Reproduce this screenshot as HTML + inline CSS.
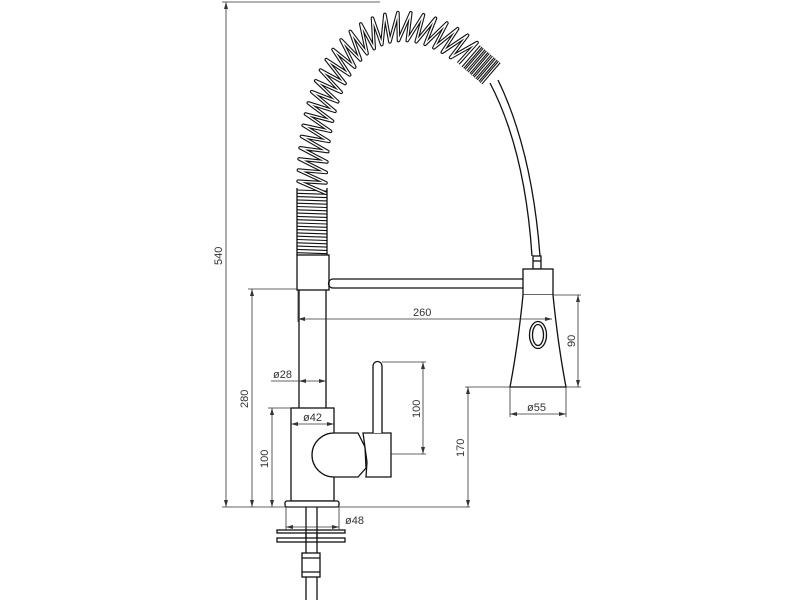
<!DOCTYPE html>
<html><head><meta charset="utf-8"><style>
html,body{margin:0;padding:0;background:#fff;width:800px;height:600px;overflow:hidden}
svg{display:block}
text{font-family:"Liberation Sans",sans-serif;font-size:11px;fill:#333}
</style></head><body>
<svg id="s" width="800" height="600" viewBox="0 0 800 600" xmlns="http://www.w3.org/2000/svg">
<g fill="none" stroke="#111" stroke-width="1.3">
<rect x="297" y="255" width="32" height="35" fill="#fff"/>
<path d="M333,279 L523,279 M333,288 L523,288 M333,279 A4.5,4.5 0 0 0 333,288" />
<path d="M299,290 L299,408 M326,290 L326,408"/>
<rect x="291" y="408" width="43" height="93" fill="#fff"/>
<path d="M334,433 L358,433 L365,447 L366,468 L358,477 L334,477 A22,22 0 0 1 334,433 Z" fill="#fff"/>
<path d="M363,433 L391,433 L391,477 L366,477 L367,462 Z" fill="#fff"/>
<path d="M373,433 L373,366 A4.5,4.5 0 0 1 382,366 L382,433" fill="#fff"/>
<rect x="285" y="501" width="54" height="6" rx="2" fill="#fff"/>
<path d="M306,507 L306,600 M317,507 L317,600"/>
<rect x="277" y="530" width="68" height="3" fill="#fff"/>
<rect x="277" y="538" width="68" height="4" fill="#fff"/>
<path d="M306,530 L306,542 M317,530 L317,542"/>
<rect x="302" y="553" width="18" height="24" fill="#fff"/>
<path d="M302,558 L320,558 M302,572 L320,572"/>
<path d="M490,83 Q525,150 532,256"/>
<path d="M498,80 Q532,150 540,256"/>
<rect x="533" y="256" width="8" height="13" fill="#fff"/>
<path d="M533,261 L541,261"/>
<rect x="523" y="269" width="30" height="26" fill="#fff"/>
<path d="M523,295 Q518,345 510,387 L566,387 Q558,345 553,295" fill="#fff"/>
<ellipse cx="538" cy="335" rx="8.5" ry="13.5"/>
<ellipse cx="538" cy="335" rx="5.5" ry="10.5"/>
<path d="M297,188 L297,255 M327,188 L327,255"/>
</g>
<g id="coil"></g>
<g fill="none" stroke="#333" stroke-width="0.8">
<path d="M226,2 L226,507 M222,2 L380,2"/>
<path d="M222,507 L470,507"/>
<path d="M252,289 L252,507 M248,289 L297,289"/>
<path d="M272,408 L272,507 M268,408 L291,408"/>
<path d="M298,289 L298,322 M298,319 L552,319"/>
<path d="M271,381 L326,381"/>
<path d="M291,424 L334,424"/>
<path d="M423,362 L423,454 M382,362 L426,362 M391,454 L426,454"/>
<path d="M286,507 L286,530 M339,507 L339,530 M286,527 L339,527"/>
<path d="M468,387 L468,507 M465,387 L510,387"/>
<path d="M578,295 L578,387 M553,295 L581,295 M566,387 L581,387"/>
<path d="M510,387 L510,417 M566,387 L566,417 M510,414 L566,414"/>
</g>
<g fill="#333">
<path d="M226,2 l-2,7 h4z M226,507 l-2,-7 h4z"/>
<path d="M252,289 l-2,7 h4z M252,507 l-2,-7 h4z"/>
<path d="M272,408 l-2,7 h4z M272,507 l-2,-7 h4z"/>
<path d="M423,362 l-2,7 h4z M423,454 l-2,-7 h4z"/>
<path d="M468,387 l-2,7 h4z M468,507 l-2,-7 h4z"/>
<path d="M578,295 l-2,7 h4z M578,387 l-2,-7 h4z"/>
<path d="M298,319 l7,-2 v4z M552,319 l-7,-2 v4z"/>
<path d="M299,381 l7,-2 v4z M326,381 l-7,-2 v4z"/>
<path d="M291,424 l7,-2 v4z M334,424 l-7,-2 v4z"/>
<path d="M286,527 l7,-2 v4z M339,527 l-7,-2 v4z"/>
<path d="M510,414 l7,-2 v4z M566,414 l-7,-2 v4z"/>
</g>
<text x="413" y="316">260</text>
<text x="273" y="378">ø28</text>
<text x="303" y="421">ø42</text>
<text x="345" y="524">ø48</text>
<text x="527" y="411">ø55</text>
<text transform="translate(222,265) rotate(-90)">540</text>
<text transform="translate(248,408) rotate(-90)">280</text>
<text transform="translate(268,468) rotate(-90)">100</text>
<text transform="translate(420,418) rotate(-90)">100</text>
<text transform="translate(464,457) rotate(-90)">170</text>
<text transform="translate(575,347) rotate(-90)">90</text>
</svg>
<script>
(function(){
var g=document.getElementById('coil'),NS='http://www.w3.org/2000/svg';
function add(d,w,c){var p=document.createElementNS(NS,'path');p.setAttribute('d',d);p.setAttribute('fill','none');p.setAttribute('stroke',c);p.setAttribute('stroke-width',w);p.setAttribute('stroke-linejoin','round');g.appendChild(p);}
var d='';for(var y=190;y<=254;y+=3.3){d+='M297,'+y.toFixed(1)+' L327,'+(y+1).toFixed(1)+' ';}
add(d,1.1,'#111');
var P=[[312,190],[312,25],[400,-5],[470,55]];
function B(t){var u=1-t;return [u*u*u*P[0][0]+3*u*u*t*P[1][0]+3*u*t*t*P[2][0]+t*t*t*P[3][0],u*u*u*P[0][1]+3*u*u*t*P[1][1]+3*u*t*t*P[2][1]+t*t*t*P[3][1]];}
var N=2000,pts=[],L=[0];for(var i=0;i<=N;i++){pts.push(B(i/N));if(i>0){var a=pts[i-1],b=pts[i];L.push(L[i-1]+Math.hypot(b[0]-a[0],b[1]-a[1]));}}
var tot=L[N];function at(s){var i=0;while(i<N&&L[i+1]<s)i++;var a=pts[i],b=pts[Math.min(i+1,N)];var dx=b[0]-a[0],dy=b[1]-a[1],l=Math.hypot(dx,dy)||1;return {p:a,t:[dx/l,dy/l],n:[dy/l,-dx/l]};}
var coils=26,step=tot/coils,z='';
for(var k=0;k<=coils*2;k++){var s=k*step/2;if(s>tot)s=tot;var o=at(s);var side=(k%2?1:-1);var sh=side*step*0.3;
var x=o.p[0]+o.n[0]*14*side+o.t[0]*sh,y=o.p[1]+o.n[1]*14*side+o.t[1]*sh;z+=(k?'L':'M')+x.toFixed(1)+','+y.toFixed(1)+' ';}
add(z,3.6,'#111');add(z,1.4,'#fff');
var e=at(tot),t=e.t,n=e.n,c0=[472,57],w='';
for(var j=0;j<7;j++){var cx=c0[0]+t[0]*j*4,cy=c0[1]+t[1]*j*4;w+='M'+(cx-n[0]*14).toFixed(1)+','+(cy-n[1]*14).toFixed(1)+' L'+(cx+n[0]*14).toFixed(1)+','+(cy+n[1]*14).toFixed(1)+' ';}
add(w,3.4,'#111');add(w,1.2,'#fff');
})();
</script>
</body></html>
